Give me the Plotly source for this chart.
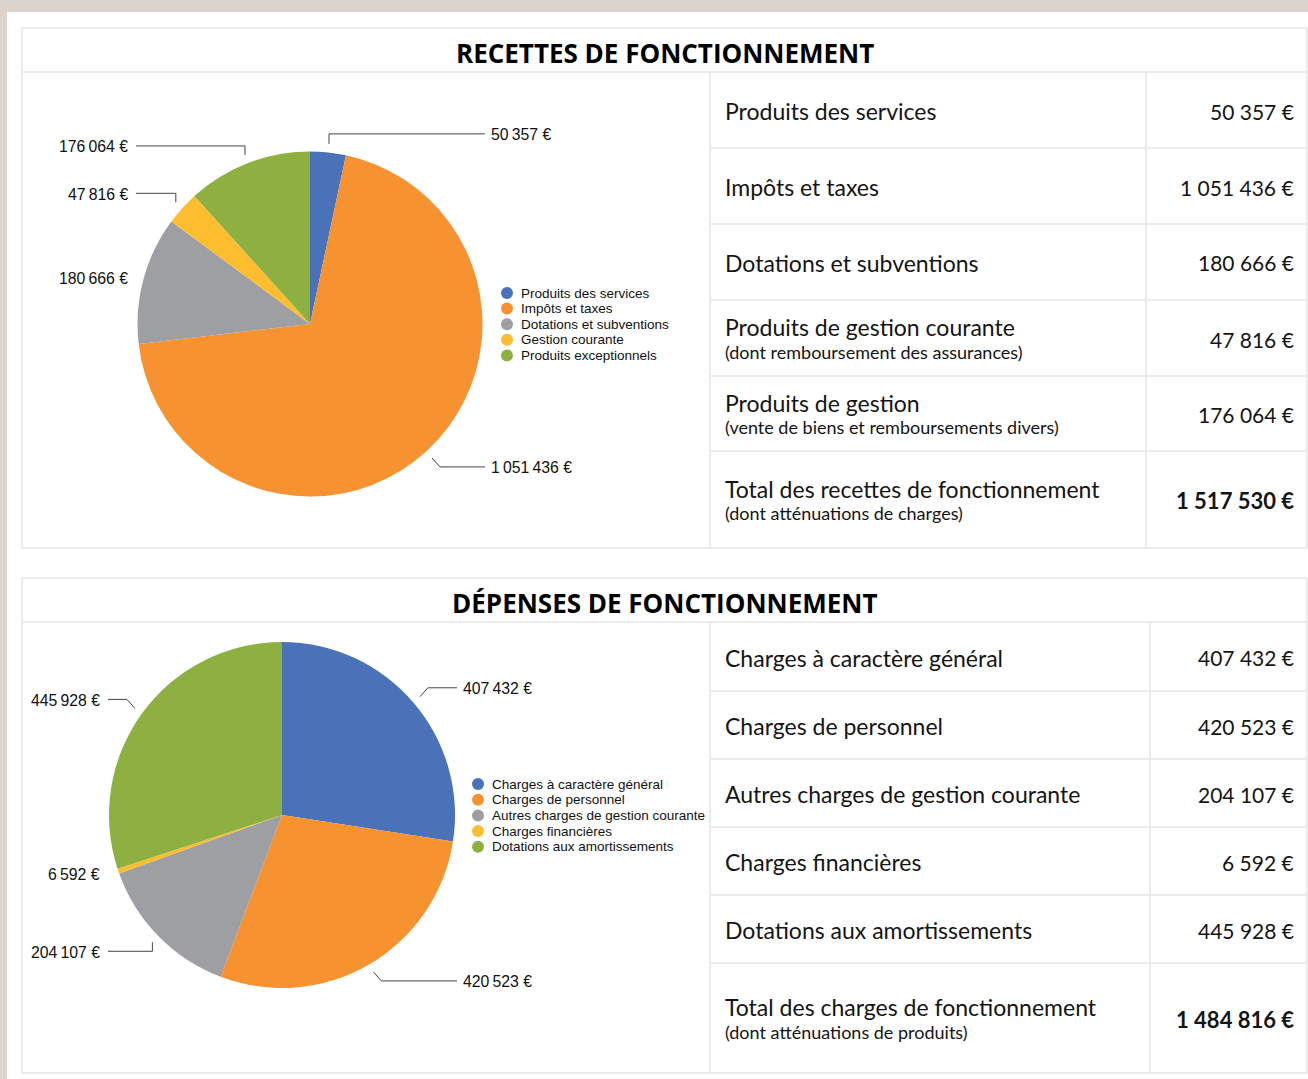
import math
import plotly.graph_objects as go

W, H = 1308, 1079

# ---------------- DATA ----------------
rec_title = "RECETTES DE FONCTIONNEMENT"
rec_categories = ["Produits des services", "Impôts et taxes", "Dotations et subventions",
                  "Gestion courante", "Produits exceptionnels"]
rec_values = [50357, 1051436, 180666, 47816, 176064]
rec_rows = ["Produits des services", "Impôts et taxes", "Dotations et subventions",
            "Produits de gestion courante", "Produits de gestion",
            "Total des recettes de fonctionnement"]
rec_notes = ["", "", "", "(dont remboursement des assurances)",
             "(vente de biens et remboursements divers)", "(dont atténuations de charges)"]
rec_row_values = [50357, 1051436, 180666, 47816, 176064, 1517530]

dep_title = "DÉPENSES DE FONCTIONNEMENT"
dep_categories = ["Charges à caractère général", "Charges de personnel",
                  "Autres charges de gestion courante", "Charges financières",
                  "Dotations aux amortissements"]
dep_values = [407432, 420523, 204107, 6592, 445928]
dep_rows = ["Charges à caractère général", "Charges de personnel",
            "Autres charges de gestion courante", "Charges financières",
            "Dotations aux amortissements", "Total des charges de fonctionnement"]
dep_notes = ["", "", "", "", "", "(dont atténuations de produits)"]
dep_row_values = [407432, 420523, 204107, 6592, 445928, 1484816]

# ---------------- STYLE ----------------
COLORS = ["#4A72B8", "#F6922F", "#9D9FA2", "#FCBD2E", "#8EB041"]
BORDER = "#EBEBEB"
TXT = "#141414"
TABLE_FONT = "Lato"
CHART_FONT = "Liberation Sans"
TITLE_FONT = "Open Sans"


def X(x):
    return x / W


def Y(y):
    return 1 - y / H


def fmt_chart(v):
    return f"{v:,}".replace(",", "\u2009") + " €"


def fmt_table(v):
    return f"{v:,}".replace(",", " ") + " €"


fig = go.Figure()
shapes = []
annotations = []

# white panel
shapes.append(dict(type="rect", xref="paper", yref="paper", x0=X(7), x1=X(1310),
                   y0=Y(1081), y1=Y(12), fillcolor="white", line=dict(width=0), layer="below"))


def section(title, categories, values, rows, notes, row_values, geo):
    top, bottom, left, right = geo["box"]
    hdr = geo["hdr"]
    c1, c2 = geo["cols"]
    lines = geo["rows"]
    # box
    shapes.append(dict(type="rect", xref="paper", yref="paper", x0=X(left), x1=X(right),
                       y0=Y(bottom), y1=Y(top), line=dict(color=BORDER, width=2)))
    shapes.append(dict(type="line", xref="paper", yref="paper", x0=X(left), x1=X(right),
                       y0=Y(hdr), y1=Y(hdr), line=dict(color=BORDER, width=2)))
    for cx in (c1, c2):
        shapes.append(dict(type="line", xref="paper", yref="paper", x0=X(cx), x1=X(cx),
                           y0=Y(hdr), y1=Y(bottom), line=dict(color=BORDER, width=2)))
    for ly in lines:
        shapes.append(dict(type="line", xref="paper", yref="paper", x0=X(c1), x1=X(right),
                           y0=Y(ly), y1=Y(ly), line=dict(color=BORDER, width=2)))
    # title
    annotations.append(dict(xref="paper", yref="paper", x=X((left + right) / 2), y=Y((top + hdr) / 2 + 3),
                            text=f"<b>{title}</b>", showarrow=False, xanchor="center", yanchor="middle",
                            font=dict(family=TITLE_FONT, size=geo["title_size"], color="#000")))
    # table cells
    bounds = [hdr] + lines + [bottom]
    for i, (r, n, v) in enumerate(zip(rows, notes, row_values)):
        y0, y1 = bounds[i], bounds[i + 1]
        mid = (y0 + y1) / 2
        is_total = i == len(rows) - 1
        if n:
            annotations.append(dict(xref="paper", yref="paper", x=X(c1 + 13), y=Y(mid - 11),
                                    text=r, showarrow=False, xanchor="left", yanchor="middle",
                                    font=dict(family=TABLE_FONT, size=23, color=TXT)))
            annotations.append(dict(xref="paper", yref="paper", x=X(c1 + 13), y=Y(mid + 14),
                                    text=n, showarrow=False, xanchor="left", yanchor="middle",
                                    font=dict(family=TABLE_FONT, size=18, color=TXT)))
        else:
            annotations.append(dict(xref="paper", yref="paper", x=X(c1 + 13), y=Y(mid + 1),
                                    text=r, showarrow=False, xanchor="left", yanchor="middle",
                                    font=dict(family=TABLE_FONT, size=23, color=TXT)))
        vt = fmt_table(v)
        if is_total:
            vt = f"<b>{vt}</b>"
        annotations.append(dict(xref="paper", yref="paper", x=X(right - 11), y=Y(mid + 1),
                                text=vt, showarrow=False, xanchor="right", yanchor="middle",
                                font=dict(family=TABLE_FONT, size=22 if is_total else 21, color=TXT)))
    # pie
    pcx, pcy = geo["center"]
    R = geo["radius"]
    fig.add_trace(go.Pie(values=values, labels=categories, sort=False, direction="clockwise",
                         rotation=0, textinfo="none", showlegend=False,
                         marker=dict(colors=COLORS, line=dict(width=0)),
                         domain=dict(x=[X(pcx - R), X(pcx + R)], y=[Y(pcy + R), Y(pcy - R)])))
    # leader lines + labels
    total = sum(values)
    cum = 0
    for v, (kind, dy) in zip(values, geo["leaders"]):
        theta = 2 * math.pi * (cum + v / 2) / total
        cum += v
        s = math.sin(theta)
        px = pcx + 1.05 * R * s
        py = pcy - 1.05 * R * math.cos(theta)
        side = 1 if s > 0 else -1
        ly = py + dy
        col_end = pcx + 175 if side > 0 else pcx - 174
        if kind != "none":
            kx = px if kind == "v" else px + 8 * side
            path = f"M {X(px)},{Y(py)} L {X(kx)},{Y(ly)} L {X(col_end)},{Y(ly)}"
            shapes.append(dict(type="path", xref="paper", yref="paper", path=path,
                               line=dict(color="#444", width=1)))
        lx = col_end + 4 if side > 0 else col_end - 6
        annotations.append(dict(xref="paper", yref="paper", x=X(lx), y=Y(ly + 1),
                                text=fmt_chart(v), showarrow=False,
                                xanchor="left" if side > 0 else "right", yanchor="middle",
                                font=dict(family=CHART_FONT, size=15.8, color="#111")))
    # legend
    lx, tx, ly0, step = geo["legend"]
    for i, (cat, col) in enumerate(zip(categories, COLORS)):
        yy = ly0 + i * step
        shapes.append(dict(type="circle", xref="paper", yref="paper",
                           x0=X(lx - 6), x1=X(lx + 6), y0=Y(yy + 6), y1=Y(yy - 6),
                           fillcolor=col, line=dict(width=0)))
        annotations.append(dict(xref="paper", yref="paper", x=X(tx - 2), y=Y(yy),
                                text=cat, showarrow=False, xanchor="left", yanchor="middle",
                                font=dict(family=CHART_FONT, size=13.5, color="#111")))


section(rec_title, rec_categories, rec_values, rec_rows, rec_notes, rec_row_values,
        dict(box=(28, 548, 22, 1307), hdr=72, cols=(710, 1146), rows=[148, 224, 300, 376, 451],
             center=(310, 324), radius=172.5, title_size=26,
             leaders=[("v", -10), ("d", 9), ("none", 0), ("v", -9), ("v", -9)],
             legend=(507, 521, 293, 15.6)))

section(dep_title, dep_categories, dep_values, dep_rows, dep_notes, dep_row_values,
        dict(box=(578, 1073, 22, 1307), hdr=622, cols=(710, 1150), rows=[691, 759, 827, 895, 963],
             center=(282, 815), radius=173, title_size=26,
             leaders=[("d", -9), ("d", 9), ("v", 9), ("none", 0), ("d", -9)],
             legend=(478, 492, 784, 15.7)))

fig.update_layout(width=W, height=H, margin=dict(l=0, r=0, t=0, b=0),
                  paper_bgcolor="#DCD3CD", plot_bgcolor="white",
                  shapes=shapes, annotations=annotations, showlegend=False)

fig.write_html("out.html", config={"displayModeBar": False},
               post_script="document.body.style.margin='0';document.body.style.overflow='hidden';")
